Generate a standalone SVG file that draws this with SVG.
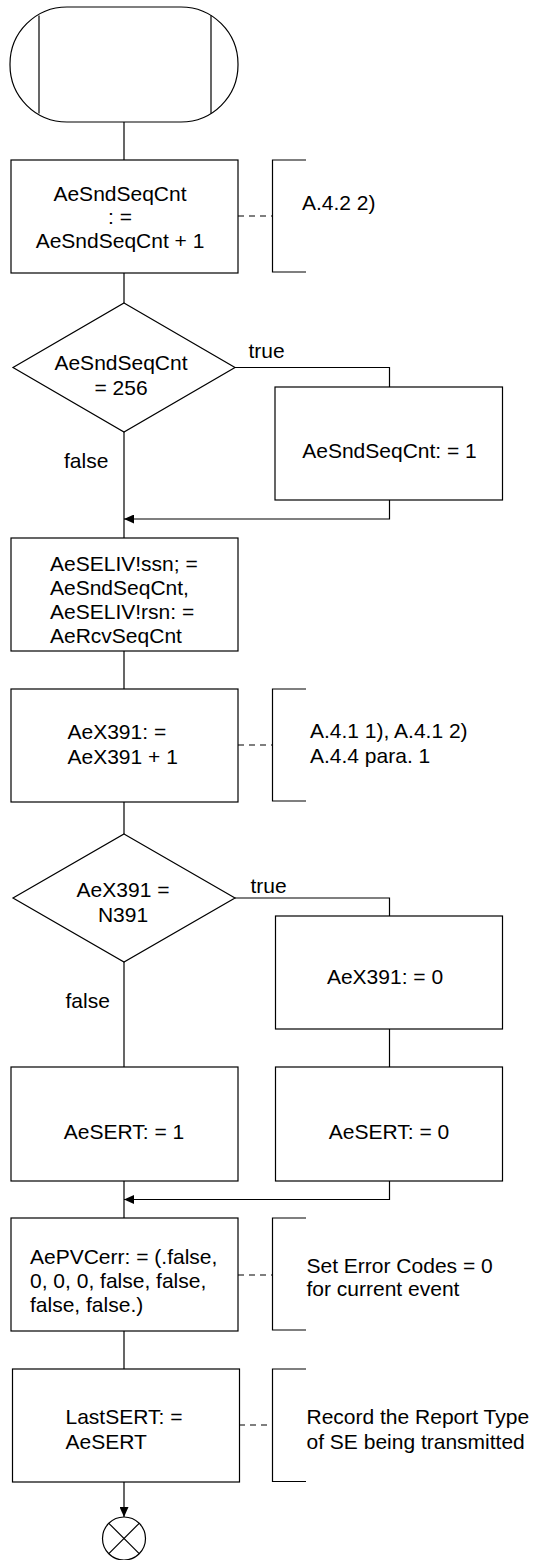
<svg xmlns="http://www.w3.org/2000/svg" width="536" height="1560" viewBox="0 0 536 1560">
<style>
  .s{fill:#fff;stroke:#000;stroke-width:1.2}
  .l{fill:none;stroke:#000;stroke-width:1.2}
  .d{fill:none;stroke:#000;stroke-width:1.2;stroke-dasharray:6,5}
  text{font-family:"Liberation Sans",Arial,sans-serif;font-size:21px;fill:#000}
  .c{text-anchor:middle}
</style>
<defs>
  <marker id="arr" viewBox="0 0 10 9" refX="10" refY="4.5" markerWidth="10" markerHeight="9" markerUnits="userSpaceOnUse" orient="auto">
    <path d="M0,0 L10,4.5 L0,9 z" fill="#000"/>
  </marker>
</defs>
<rect width="536" height="1560" fill="#fff"/>
<g id="connectors">
  <line class="l" x1="124" y1="122" x2="124" y2="160"/>
  <line class="l" x1="124" y1="273" x2="124" y2="303"/>
  <polyline class="l" points="235,367.5 389.5,367.5 389.5,387"/>
  <line class="l" x1="124" y1="432" x2="124" y2="538"/>
  <path class="l" d="M389.5,500 V519 H124" marker-end="url(#arr)"/>
  <line class="l" x1="124" y1="651" x2="124" y2="689"/>
  <line class="l" x1="124" y1="802" x2="124" y2="834"/>
  <polyline class="l" points="235,898 389.5,898 389.5,916"/>
  <line class="l" x1="389.5" y1="1029" x2="389.5" y2="1067"/>
  <line class="l" x1="124" y1="962" x2="124" y2="1067"/>
  <line class="l" x1="124" y1="1181" x2="124" y2="1218"/>
  <path class="l" d="M389.5,1181 V1199.5 H124" marker-end="url(#arr)"/>
  <line class="l" x1="124" y1="1331" x2="124" y2="1369"/>
  <line class="l" x1="124" y1="1482" x2="124" y2="1517" marker-end="url(#arr)"/>
  <line class="d" x1="238" y1="216" x2="272.5" y2="216"/>
  <line class="d" x1="238" y1="745" x2="272.5" y2="745"/>
  <line class="d" x1="238" y1="1275" x2="272.5" y2="1275"/>
  <line class="d" x1="239" y1="1425" x2="272.5" y2="1425"/>
  <text x="248.5" y="358">true</text>
  <text x="64" y="467.5">false</text>
  <text x="250.5" y="893">true</text>
  <text x="65.5" y="1007.5">false</text>
</g>
<g id="start">
  <rect class="s" x="10" y="7" width="228" height="115" rx="57" ry="57"/>
  <line class="l" x1="39" y1="15.5" x2="39" y2="113.5"/>
  <line class="l" x1="211" y1="15.5" x2="211" y2="113.5"/>
</g>
<g id="inc-snd">
  <rect class="s" x="11" y="160" width="227" height="113"/>
  <text class="c" x="120" y="201">AeSndSeqCnt</text>
  <text class="c" x="120" y="224">: =</text>
  <text class="c" x="120" y="247.5">AeSndSeqCnt + 1</text>
</g>
<g id="note-a422">
  <polyline class="l" points="306,160 272.5,160 272.5,272 306,272"/>
  <text x="302" y="210">A.4.2 2)</text>
</g>
<g id="dec-256">
  <polygon class="s" points="124,303 235,367.5 124,432 13,367.5"/>
  <text class="c" x="121" y="370">AeSndSeqCnt</text>
  <text class="c" x="121" y="395">= 256</text>
</g>
<g id="reset-snd">
  <rect class="s" x="275" y="387" width="227.5" height="113"/>
  <text class="c" x="389.5" y="458">AeSndSeqCnt: = 1</text>
</g>
<g id="seliv">
  <rect class="s" x="11" y="538" width="227" height="113"/>
  <text x="50" y="571">AeSELIV!ssn; =</text>
  <text x="50" y="595">AeSndSeqCnt,</text>
  <text x="50" y="619">AeSELIV!rsn: =</text>
  <text x="50" y="643">AeRcvSeqCnt</text>
</g>
<g id="inc-x391">
  <rect class="s" x="11" y="689" width="227" height="113"/>
  <text x="67.5" y="738.5">AeX391: =</text>
  <text x="67.5" y="763.5">AeX391 + 1</text>
</g>
<g id="note-a41">
  <polyline class="l" points="306,689 272.5,689 272.5,801 306,801"/>
  <text x="310" y="738">A.4.1 1), A.4.1 2)</text>
  <text x="310" y="762.5">A.4.4 para. 1</text>
</g>
<g id="dec-n391">
  <polygon class="s" points="124,834 235,898 124,962 13,898"/>
  <text class="c" x="123" y="897">AeX391 =</text>
  <text class="c" x="123" y="921.5">N391</text>
</g>
<g id="reset-x391">
  <rect class="s" x="275.5" y="916" width="227" height="113"/>
  <text class="c" x="385" y="984">AeX391: = 0</text>
</g>
<g id="sert-1">
  <rect class="s" x="11" y="1067" width="227" height="114"/>
  <text class="c" x="124" y="1139">AeSERT: = 1</text>
</g>
<g id="sert-0">
  <rect class="s" x="275.5" y="1067" width="227" height="114"/>
  <text class="c" x="389" y="1139">AeSERT: = 0</text>
</g>
<g id="pvcerr">
  <rect class="s" x="11" y="1218" width="227" height="113"/>
  <text x="30" y="1263.5">AePVCerr: = (.false,</text>
  <text x="30" y="1287.5">0, 0, 0, false, false,</text>
  <text x="30" y="1311.5">false, false.)</text>
</g>
<g id="note-err">
  <polyline class="l" points="306,1218 272.5,1218 272.5,1330 306,1330"/>
  <text x="306.5" y="1272.5">Set Error Codes = 0</text>
  <text x="306.5" y="1296">for current event</text>
</g>
<g id="lastsert">
  <rect class="s" x="12.5" y="1369" width="227" height="113"/>
  <text x="65.5" y="1423.5">LastSERT: =</text>
  <text x="65.5" y="1448.5">AeSERT</text>
</g>
<g id="note-sert">
  <polyline class="l" points="306,1369 272.5,1369 272.5,1481.5 306,1481.5"/>
  <text x="306.5" y="1424">Record the Report Type</text>
  <text x="306.5" y="1448.5">of SE being transmitted</text>
</g>
<g id="stop">
  <circle class="s" cx="124" cy="1538.5" r="21.5"/>
  <line class="l" x1="108.8" y1="1523.3" x2="139.2" y2="1553.7"/>
  <line class="l" x1="139.2" y1="1523.3" x2="108.8" y2="1553.7"/>
</g>
</svg>
